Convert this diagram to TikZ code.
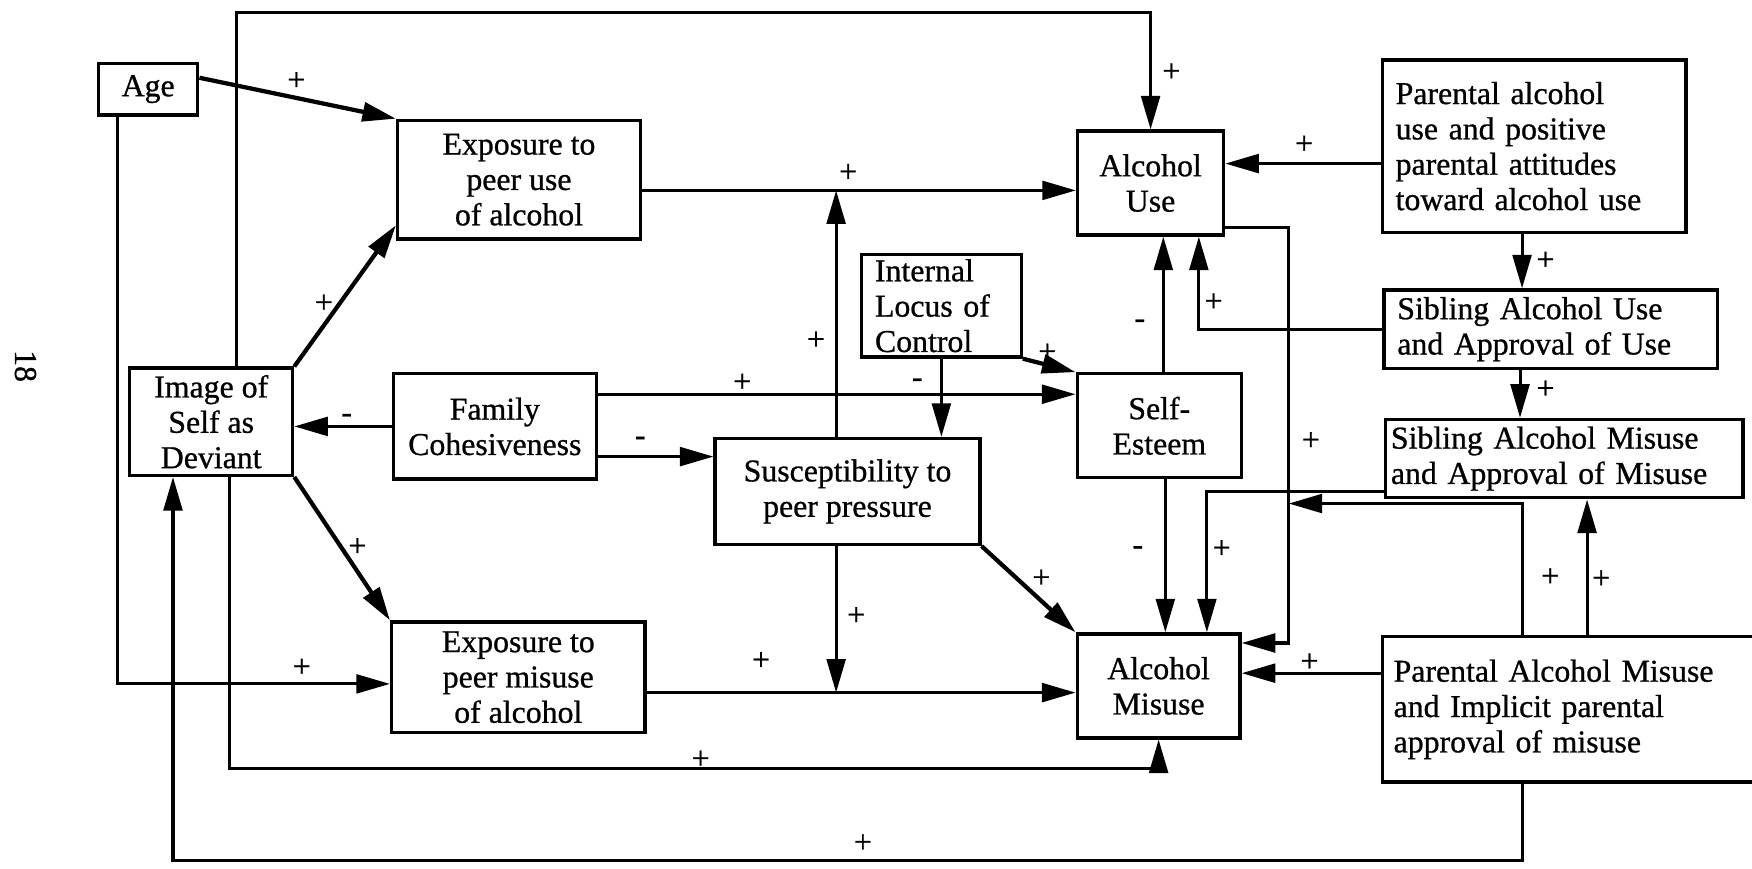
\documentclass[tikz,border=0pt]{standalone}
\usepackage{fontspec}
\setmainfont{Liberation Serif}[FakeBold=0.8]
\usepackage{tikz}
\usetikzlibrary{arrows.meta}
\tikzset{
  block/.style={rectangle, draw=black, line width=1.4pt, align=center,
    inner sep=1pt, font=\fontsize{13.5}{15}\selectfont},
  leftblock/.style={block, align=left, inner xsep=0.2cm},
  arrow/.style={-{Triangle[length=0.5cm, width=0.28cm]}, line width=1.3pt},
  thickarrow/.style={arrow, line width=1.8pt},
  sign/.style={font=\fontsize{13.5}{14}\selectfont, inner sep=0pt}
}

\begin{document}
\begin{tikzpicture}
  \useasboundingbox (0,0) rectangle (26.13,12.96);

  % Page number
  \node[rotate=-90, font=\fontsize{13.5}{14}\selectfont] (pagenum) at (0.38,7.5) {18};

  % Boxes
  \node[block, minimum width=1.48cm, minimum height=0.77cm] (age) at (2.21,11.63) {Age};
  \node[block, minimum width=3.62cm, minimum height=1.77cm] (expuse) at (7.74,10.28) {Exposure to\\peer use\\of alcohol};
  \node[block, minimum width=2.18cm, minimum height=1.55cm] (alcuse) at (17.16,10.23) {Alcohol\\Use};
  \node[leftblock, text width=4.13cm, minimum height=2.57cm] (paruse) at (22.88,10.78) {Parental alcohol\\use and positive\\parental attitudes\\toward alcohol use};
  \node[leftblock, inner ysep=0pt, text width=1.98cm, minimum height=1.53cm] (locus) at (14.04,8.4) {Internal\\Locus of\\Control};
  \node[block, minimum width=2.45cm, minimum height=1.55cm] (esteem) at (17.29,6.61) {Self-\\Esteem};
  \node[leftblock, text width=4.58cm, minimum height=1.17cm] (sibuse) at (23.13,8.05) {Sibling Alcohol Use\\and Approval of Use};
  \node[leftblock, inner xsep=0.08cm, text width=5.17cm, minimum height=1.17cm] (sibmis) at (23.33,6.12) {Sibling Alcohol Misuse\\and Approval of Misuse};
  \node[block, minimum width=2.43cm, minimum height=1.6cm] (image) at (3.15,6.67) {Image of\\Self as\\Deviant};
  \node[block, minimum width=3.03cm, minimum height=1.57cm] (family) at (7.38,6.6) {Family\\Cohesiveness};
  \node[block, minimum width=3.95cm, minimum height=1.58cm] (suscept) at (12.64,5.63) {Susceptibility to\\peer pressure};
  \node[block, minimum width=3.78cm, minimum height=1.65cm] (expmis) at (7.73,2.86) {Exposure to\\peer misuse\\of alcohol};
  \node[block, minimum width=2.43cm, minimum height=1.55cm] (alcmis) at (17.28,2.73) {Alcohol\\Misuse};
  \node[leftblock, inner xsep=0.17cm, text width=6.5cm, minimum height=2.17cm] (parmis) at (24.035,2.38) {Parental Alcohol Misuse\\and Implicit parental\\approval of misuse};

  % Rails and ports
  \coordinate (toprail) at (0,12.77);
  \coordinate (lowrail) at (0,1.5);
  \coordinate (botrail) at (0,0.13);
  \coordinate (rail) at (19.22,5.45);
  \path ([xshift=0.38cm]image.north) coordinate (imgtop)
        ([xshift=0.27cm]image.south) coordinate (imgbot)
        ([xshift=-0.57cm]image.south) coordinate (imgin)
        ([yshift=-0.1cm]expmis.west) coordinate (agein)
        ([yshift=0.48cm]family.east) coordinate (famup)
        ([yshift=-0.45cm]family.east) coordinate (famdn)
        ([yshift=-0.16cm]expuse.east) coordinate (useout)
        ([xshift=-0.17cm]suscept.north) coordinate (susup)
        ([yshift=-0.23cm]expmis.east) coordinate (misout)
        ([xshift=-0.17cm]suscept.south) coordinate (susdn)
        ([xshift=0.06cm]esteem.north) coordinate (estup)
        ([xshift=0.09cm]esteem.south) coordinate (estdn)
        ([xshift=0.72cm]alcuse.south) coordinate (sibin)
        ([yshift=-0.26cm]paruse.west) coordinate (parout)
        ([xshift=-0.18cm]paruse.south) coordinate (pardn)
        ([xshift=-0.46cm]sibuse.south) coordinate (sibdn)
        ([yshift=-0.49cm]sibmis.west) coordinate (sibmisout)
        ([xshift=0.72cm]alcmis.north) coordinate (sibmisin)
        ([yshift=-0.66cm]alcuse.east) coordinate (useright)
        ([yshift=0.64cm]alcmis.east) coordinate (misright)
        ([xshift=-1.335cm]parmis.north) coordinate (parmisup)
        ([xshift=-0.365cm]parmis.north) coordinate (parmissib)
        ([xshift=-1.335cm]parmis.south) coordinate (parmisdn)
        ([yshift=0.54cm]parmis.west) coordinate (parmisout);

  % Left side
  \draw[arrow] (imgtop) -- (imgtop |- toprail) -| (alcuse.north);
  \node[sign] (pTop) at (17.47,11.88) {+};
  \draw[thickarrow] ([yshift=0.17cm]age.east) -- (expuse.north west);
  \node[sign] (pAgeUse) at (4.42,11.75) {+};
  \draw[arrow] ([xshift=-0.46cm]age.south) |- (agein);
  \node[sign] (pAgeMis) at (4.5,3.0) {+};
  \draw[thickarrow] (image.north east) -- ([yshift=0.23cm]expuse.south west);
  \node[sign] (pImgUse) at (4.83,8.43) {+};
  \draw[thickarrow] (image.south east) -- (expmis.north west);
  \node[sign] (pImgMis) at (5.33,4.8) {+};
  \draw[arrow] (family.west) -- (family.west -| image.east);
  \node[sign] (mFamImg) at (5.17,6.72) {-};
  \draw[arrow] (imgbot) |- (alcmis.south |- lowrail) -- (alcmis.south);
  \node[sign] (pLow) at (10.45,1.63) {+};
  \draw[arrow] (parmisdn) |- (imgin |- botrail) -- (imgin);
  \node[sign] (pBot) at (12.87,0.38) {+};

  % Middle
  \draw[arrow] (famup) -- (famup -| esteem.west);
  \node[sign] (pFamEst) at (11.07,7.25) {+};
  \draw[arrow] (famdn) -- (famdn -| suscept.west);
  \node[sign] (mFamSus) at (9.55,6.38) {-};
  \draw[arrow] (useout) -- (useout -| alcuse.west);
  \node[sign] (pUse) at (12.65,10.38) {+};
  \draw[arrow] (susup) -- (susup |- useout);
  \node[sign] (pSusUp) at (12.17,7.88) {+};
  \draw[arrow] (misout) -- (misout -| alcmis.west);
  \node[sign] (pMis) at (11.35,3.1) {+};
  \draw[arrow] (susdn) -- (susdn |- misout);
  \node[sign] (pSusDn) at (12.77,3.77) {+};
  \draw[thickarrow] (suscept.south east) -- (alcmis.north west);
  \node[sign] (pSusMis) at (15.53,4.33) {+};
  \draw[arrow] (locus.south) -- (locus.south |- suscept.north);
  \node[sign] (mLocSus) at (13.68,7.25) {-};
  \draw[thickarrow] (locus.south east) -- (esteem.north west);
  \node[sign] (pLocEst) at (15.62,7.7) {+};
  \draw[arrow] (estup) -- (estup |- alcuse.south);
  \node[sign] (mEstUse) at (17.0,8.13) {-};
  \draw[arrow] (estdn) -- (estdn |- alcmis.north);
  \node[sign] (mEstMis) at (16.97,4.75) {-};

  % Right side
  \draw[arrow] (parout) -- (parout -| alcuse.east);
  \node[sign] (pParUse) at (19.45,10.8) {+};
  \draw[arrow] (pardn) -- (pardn |- sibuse.north);
  \node[sign] (pParSib) at (23.05,9.07) {+};
  \draw[arrow] (sibuse.west) -| (sibin);
  \node[sign] (pSibUse) at (18.1,8.45) {+};
  \draw[arrow] (sibdn) -- (sibdn |- sibmis.north);
  \node[sign] (pSibSib) at (23.05,7.15) {+};
  \draw[arrow] (sibmisout) -| (sibmisin);
  \node[sign] (pSibMis) at (18.22,4.77) {+};
  \draw[arrow] (useright) -| (rail |- misright) -- (misright);
  \node[sign] (pUseMis) at (19.55,6.38) {+};
  \draw[arrow] (parmisup) |- (rail);
  \node[sign] (pParRail) at (23.12,4.35) {+};
  \draw[arrow] (parmissib) -- (parmissib |- sibmis.south);
  \node[sign] (pParSibMis) at (23.88,4.32) {+};
  \draw[arrow] (parmisout) -- (parmisout -| alcmis.east);
  \node[sign] (pParMis) at (19.53,3.08) {+};
\end{tikzpicture}
\end{document}
